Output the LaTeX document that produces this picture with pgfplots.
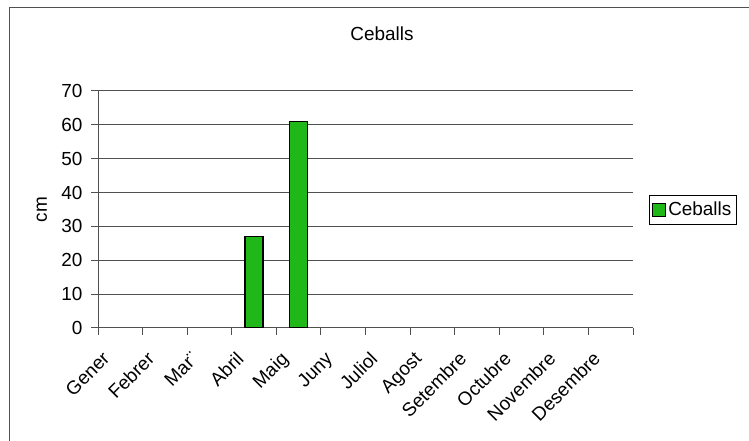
\documentclass[border=0pt]{standalone}
\usepackage{fontspec}
\setmainfont{Liberation Sans}
\usepackage{pgfplots}
\pgfplotsset{compat=1.18}
\definecolor{bargreen}{RGB}{32,184,24}
\definecolor{gridgray}{RGB}{80,80,80}
\newcommand{\chartfont}{\fontsize{19}{22}\selectfont}
\begin{document}
\chartfont
\begin{tikzpicture}[x=1bp,y=1bp]
\useasboundingbox (0,0) rectangle (749,441);
% chart frame
\draw[gridgray, line width=1bp] (9,-20) -- (9,433) -- (780,433);
\node at (382,407) {Ceballs};
\begin{axis}[
  at={(98bp,113bp)}, anchor=south west,
  scale only axis, width=535bp, height=237bp,
  xmin=-0.5, xmax=11.5, ymin=0, ymax=70,
  axis lines*=left,
  axis line style={gridgray, line width=1bp},
  ytick={0,10,...,70},
  ymajorgrids, grid style={gridgray, line width=1bp},
  tick align=outside, major tick length=7bp,
  tick style={gridgray, line width=1bp},
  xtick={-0.5,0.5,...,11.5}, xticklabels={},
  extra x ticks={0,1,...,11},
  extra x tick labels={Gener,Febrer,Mar¨,Abril,Maig,Juny,Juliol,Agost,Setembre,Octubre,Novembre,Desembre},
  extra x tick style={major tick length=0pt, grid=none,
    tick label style={xshift=-19bp, yshift=-21bp, rotate=45, anchor=north east, inner sep=1bp}},
  tick label style={font=\chartfont},
  yticklabel style={xshift=-2bp},
  /pgf/number format/assume math mode=true,
  ylabel={cm},
  ylabel style={at={(axis description cs:-0.105,0.5)}, anchor=center, font=\chartfont},
  ybar, bar width=18bp,
  legend style={draw=black, line width=0.8bp, at={(1.03,0.498)}, anchor=west,
    font=\chartfont, inner xsep=3bp, inner ysep=4bp},
  legend image code/.code={\draw[fill=bargreen,draw=black,line width=0.8bp] (0bp,-6.5bp) rectangle (13bp,6.5bp);},
]
\addplot[fill=bargreen, draw=black, line width=1.3bp] coordinates {(3,27) (4,61)};
\addlegendentry{Ceballs}
\end{axis}
\end{tikzpicture}
\end{document}
